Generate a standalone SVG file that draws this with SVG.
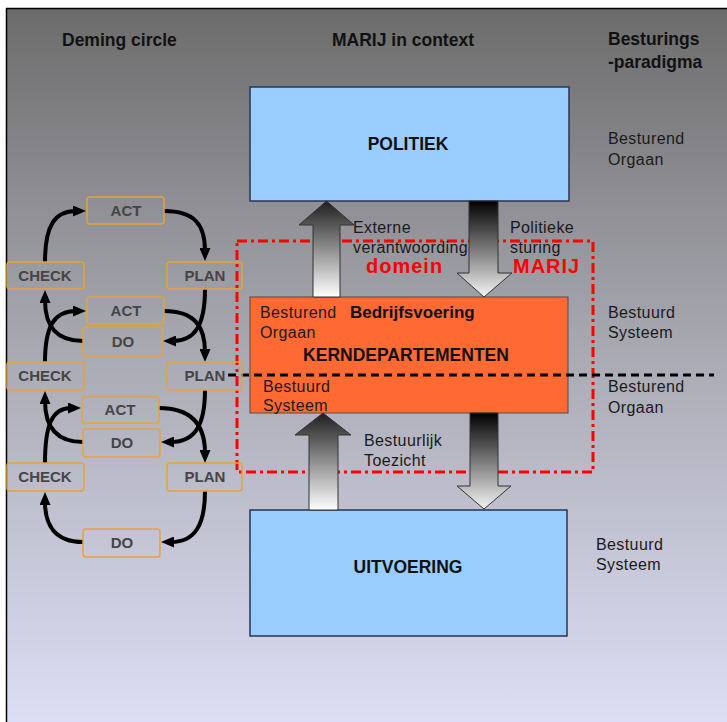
<svg xmlns="http://www.w3.org/2000/svg" width="727" height="722" viewBox="0 0 727 722">
  <defs>
    <linearGradient id="bg" x1="0" y1="0" x2="0" y2="1">
      <stop offset="0" stop-color="#6c6c6c"/>
      <stop offset="0.5" stop-color="#acacb6"/>
      <stop offset="1" stop-color="#dedff6"/>
    </linearGradient>
    <linearGradient id="upFill" x1="0" y1="0" x2="0" y2="1">
      <stop offset="0" stop-color="#1e1e1e"/>
      <stop offset="1" stop-color="#ffffff"/>
    </linearGradient>
    <linearGradient id="downFill" x1="0" y1="0" x2="0" y2="1">
      <stop offset="0" stop-color="#000000"/>
      <stop offset="1" stop-color="#f4f4f4"/>
    </linearGradient>
    <marker id="head" viewBox="0 0 13 11" refX="3" refY="5.5" markerWidth="13" markerHeight="11" markerUnits="userSpaceOnUse" orient="auto">
      <path d="M0,0 L13,5.5 L0,11 z" fill="#000"/>
    </marker>
    <style>
      .hdr { font-family: "Liberation Sans", Arial, sans-serif; font-weight: bold; font-size: 17.5px; fill: #111; }
      .lbl { font-family: "Liberation Sans", Arial, sans-serif; font-size: 16px; letter-spacing: 0.4px; fill: #1a1a1a; }
      .big { font-family: "Liberation Sans", Arial, sans-serif; font-weight: bold; font-size: 17.5px; fill: #111; text-anchor: middle; }
      .red { font-family: "Liberation Sans", Arial, sans-serif; font-weight: bold; font-size: 20px; letter-spacing: 1px; fill: #ff0000; }
      .pd rect { fill: none; stroke: #e6a23a; stroke-width: 1.5; }
      .pd text { font-family: "Liberation Sans", Arial, sans-serif; font-weight: bold; font-size: 15px; fill: #454545; text-anchor: middle; }
      .cyc path { fill: none; stroke: #000; stroke-width: 4; marker-end: url(#head); }
      .block { stroke: #333; stroke-width: 1; }
      .blue { fill: #99ccff; stroke: #2a3550; stroke-width: 1.5; }
    </style>
  </defs>

  <!-- background panel -->
  <rect x="6.5" y="8.5" width="730" height="720" fill="url(#bg)" stroke="#000" stroke-width="1.5"/>

  <!-- column headers -->
  <text class="hdr" x="62" y="46">Deming circle</text>
  <text class="hdr" x="403" y="46" text-anchor="middle">MARIJ in context</text>
  <text class="hdr" x="608" y="45">Besturings</text>
  <text class="hdr" x="608" y="68">-paradigma</text>

  <!-- steering-paradigm labels -->
  <g id="paradigm-labels">
    <text class="lbl" x="608" y="144">Besturend</text>
    <text class="lbl" x="608" y="165">Orgaan</text>
    <text class="lbl" x="608" y="318">Bestuurd</text>
    <text class="lbl" x="608" y="338">Systeem</text>
    <text class="lbl" x="608" y="392">Besturend</text>
    <text class="lbl" x="608" y="413">Orgaan</text>
    <text class="lbl" x="596" y="550">Bestuurd</text>
    <text class="lbl" x="596" y="570">Systeem</text>
  </g>

  <!-- POLITIEK -->
  <g id="politiek">
    <rect class="blue" x="250" y="87" width="319" height="114"/>
    <text class="big" x="408" y="150">POLITIEK</text>
  </g>

  <!-- KERNDEPARTEMENTEN -->
  <g id="kerndepartementen">
    <rect x="250" y="297" width="318" height="116" fill="#ff6a33" stroke="#5a4a40" stroke-width="1"/>
    <text class="lbl" x="260" y="318">Besturend</text>
    <text class="lbl" x="260" y="338">Orgaan</text>
    <text class="hdr" x="350" y="318" style="font-size:17px">Bedrijfsvoering</text>
    <text class="big" x="406" y="361">KERNDEPARTEMENTEN</text>
    <text class="lbl" x="263" y="392">Bestuurd</text>
    <text class="lbl" x="263" y="411">Systeem</text>
  </g>

  <!-- UITVOERING -->
  <g id="uitvoering">
    <rect class="blue" x="250" y="510" width="317" height="126"/>
    <text class="big" x="408" y="573">UITVOERING</text>
  </g>

  <!-- MARIJ domain -->
  <g id="domein-marij">
    <rect x="237" y="241" width="356" height="231" fill="none" stroke="#ff0000" stroke-width="3" stroke-dasharray="10,4,3,4"/>
    <text class="red" x="366" y="273">domein</text>
    <text class="red" x="513" y="273">MARIJ</text>
  </g>

  <!-- block arrows between levels -->
  <g id="connectors">
    <polygon class="block" fill="url(#upFill)" points="313,297 313,225 299,225 326.5,201 354,225 340,225 340,297"/>
    <polygon class="block" fill="url(#downFill)" points="469,201 498,201 498,273 512,273 484,297 457,273 469,273"/>
    <polygon class="block" fill="url(#upFill)" points="309,510 309,435 295,435 323,413 351,435 338,435 338,510"/>
    <polygon class="block" fill="url(#downFill)" points="470,413 498,413 498,486 511,486 484,509 457,486 470,486"/>

    <g class="cyc">
      <path d="M45,262 C45,225 55,211 76,211"/>
      <path d="M164,211 C195,211 205,225 205,251"/>
      <path d="M205,289 C205,325 195,341 173,341"/>
      <path d="M83,341 C55,341 45,325 45,300"/>
      <path d="M45,362 C45,325 55,311 76,311"/>
      <path d="M164,311 C195,311 205,327 205,352"/>
      <path d="M205,390 C205,425 195,442 171,442"/>
      <path d="M83,442 C55,442 45,425 45,401"/>
      <path d="M45,463 C45,425 52,408 71,408"/>
      <path d="M159,408 C192,408 205,425 205,453"/>
      <path d="M205,491 C205,525 195,542 171,542"/>
      <path d="M83,542 C55,542 45,525 45,502"/>
    </g>

    <!-- boundary between steering organ and steered system -->
    <line x1="228" y1="375" x2="714" y2="375" stroke="#000" stroke-width="3" stroke-dasharray="8,5"/>
  </g>

  <!-- arrow labels -->
  <text class="lbl" x="353" y="233">Externe</text>
  <text class="lbl" x="353" y="253">verantwoording</text>
  <text class="lbl" x="510" y="233">Politieke</text>
  <text class="lbl" x="510" y="253">sturing</text>
  <text class="lbl" x="364" y="446">Bestuurlijk</text>
  <text class="lbl" x="364" y="466">Toezicht</text>

  <!-- Deming cycle steps -->
  <g id="act-1" class="pd"><rect x="87" y="197" width="77" height="27" rx="3"/><text x="126" y="216">ACT</text></g>
  <g id="check-1" class="pd"><rect x="7" y="262" width="77" height="27" rx="3"/><text x="45" y="281">CHECK</text></g>
  <g id="plan-1" class="pd"><rect x="167" y="262" width="75" height="27" rx="3"/><text x="205" y="281">PLAN</text></g>
  <g id="act-2" class="pd"><rect x="87" y="297" width="77" height="27" rx="3"/><text x="126" y="316">ACT</text></g>
  <g id="do-1" class="pd"><rect x="83" y="327" width="79" height="29" rx="3"/><text x="123" y="347">DO</text></g>
  <g id="check-2" class="pd"><rect x="7" y="362" width="77" height="28" rx="3"/><text x="45" y="381">CHECK</text></g>
  <g id="plan-2" class="pd"><rect x="167" y="362" width="75" height="28" rx="3"/><text x="205" y="381">PLAN</text></g>
  <g id="act-3" class="pd"><rect x="82" y="397" width="77" height="26" rx="3"/><text x="120" y="415">ACT</text></g>
  <g id="do-2" class="pd"><rect x="83" y="429" width="77" height="28" rx="3"/><text x="122" y="448">DO</text></g>
  <g id="check-3" class="pd"><rect x="7" y="463" width="77" height="28" rx="3"/><text x="45" y="482">CHECK</text></g>
  <g id="plan-3" class="pd"><rect x="167" y="463" width="75" height="28" rx="3"/><text x="205" y="482">PLAN</text></g>
  <g id="do-3" class="pd"><rect x="83" y="529" width="77" height="28" rx="3"/><text x="122" y="548">DO</text></g>
</svg>
